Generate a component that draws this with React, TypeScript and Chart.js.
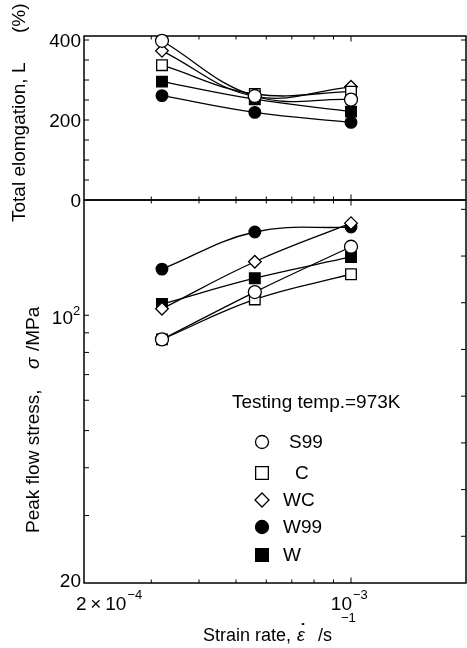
import React, { useEffect, useRef } from "react";
import { Chart, registerables } from "chart.js";

Chart.register(...registerables);

// ---------------- data ----------------
const strainRates = [3.2e-4, 5.6e-4, 1.0e-3];
const seriesNames = ["S99", "C", "WC", "W99", "W"];

// Total elongation, L (%)
const elongationS99 = [398, 260, 251];
const elongationC = [337, 265, 271];
const elongationWC = [373, 259, 283];
const elongationW99 = [261, 219, 194];
const elongationW = [296, 252, 221];

// Peak flow stress, sigma (MPa)
const stressS99 = [86.5, 115, 151];
const stressC = [86.5, 110, 128];
const stressWC = [104, 138, 174];
const stressW99 = [132, 165, 170];
const stressW = [107, 125, 142];

// axis ticks / labels
const xMajorTicks = [2e-4, 1e-3];
const xTickBase = ["2\u2009×\u200910", "10"];
const xTickExp = ["−4", "−3"];
const xMinorTicks = [3e-4, 4e-4, 5e-4, 6e-4, 7e-4, 8e-4, 9e-4];

const elongationTicks = [50, 100, 150, 200, 250, 300, 350, 400];
const elongationLabels = ["0", "200", "400"];
const elongationLabelValues = [0, 200, 400];

const stressTicks = [30, 40, 50, 60, 70, 80, 90, 100];
const stressLabelValues = [20, 100];
const stressLabelBase = ["20", "10"];
const stressLabelExp = ["", "2"];

const annotationText = "Testing temp.=973K";

// ---------------- styles ----------------
const FONT = '"Liberation Sans", Arial, Helvetica, sans-serif';
const markerShapes = ["circle", "rect", "rectRot", "circle", "rect"];
const markerFilled = [false, false, false, true, true];
const markerRadius = [6.5, 7.5, 6.3, 5.8, 7.5];
const legendRadius = [6.5, 9, 7, 6.5, 9];

function drawMarker(ctx: CanvasRenderingContext2D, shape: string, x: number, y: number, r: number, filled: boolean) {
  ctx.beginPath();
  if (shape === "circle") {
    ctx.arc(x, y, r, 0, Math.PI * 2);
  } else if (shape === "rect") {
    const s = r * Math.SQRT1_2;
    ctx.rect(x - s, y - s, 2 * s, 2 * s);
  } else {
    ctx.moveTo(x - r, y);
    ctx.lineTo(x, y - r);
    ctx.lineTo(x + r, y);
    ctx.lineTo(x, y + r);
    ctx.closePath();
  }
  ctx.fillStyle = filled ? "#000" : "#fff";
  ctx.fill();
  ctx.lineWidth = 1.3;
  ctx.strokeStyle = "#000";
  ctx.stroke();
}

function line(ctx: CanvasRenderingContext2D, x1: number, y1: number, x2: number, y2: number) {
  ctx.beginPath();
  ctx.moveTo(x1, y1);
  ctx.lineTo(x2, y2);
  ctx.stroke();
}

const framePlugin = {
  id: "frameAndLabels",
  beforeDatasetsDraw(chart: any) {
    const ctx: CanvasRenderingContext2D = chart.ctx;
    const xs = chart.scales.x;
    const yT = chart.scales.yT;
    const yB = chart.scales.yB;
    const L = chart.chartArea.left;
    const R = chart.chartArea.right;
    ctx.save();
    ctx.strokeStyle = "#000";
    ctx.lineWidth = 1.5;
    ctx.strokeRect(L, yT.top, R - L, yT.bottom - yT.top);
    ctx.strokeRect(L, yB.top, R - L, yB.bottom - yB.top);

    ctx.lineWidth = 1;
    // x ticks, inward on every horizontal border
    const panels = [yT, yB];
    for (const p of panels) {
      for (const v of xMinorTicks) {
        const px = xs.getPixelForValue(v);
        line(ctx, px, p.bottom, px, p.bottom - 3.5);
        line(ctx, px, p.top, px, p.top + 3.5);
      }
      const pm = xs.getPixelForValue(1e-3);
      line(ctx, pm, p.bottom, pm, p.bottom - 5.5);
      line(ctx, pm, p.top, pm, p.top + 5.5);
    }
    // top panel y ticks (left and right)
    for (const v of elongationTicks) {
      const py = yT.getPixelForValue(v);
      line(ctx, L, py, L + 5, py);
      line(ctx, R, py, R - 5, py);
    }
    // bottom panel y ticks
    for (const v of stressTicks) {
      const py = yB.getPixelForValue(v);
      line(ctx, L, py, L + 5, py);
    }
    const h = yB.bottom - yB.top;
    for (let k = 1; k <= 8; k++) {
      const py = yB.bottom - (k * h) / 8.2;
      line(ctx, R, py, R - 5, py);
    }

    // tick labels
    ctx.fillStyle = "#000";
    ctx.font = `19px ${FONT}`;
    ctx.textAlign = "right";
    ctx.textBaseline = "alphabetic";
    elongationLabelValues.forEach((v, i) => {
      const py = yT.getPixelForValue(v);
      ctx.fillText(elongationLabels[i], L - 3, py + 7);
    });
    stressLabelValues.forEach((v, i) => {
      const py = yB.getPixelForValue(v);
      if (stressLabelExp[i]) {
        ctx.font = `19px ${FONT}`;
        ctx.textAlign = "right";
        ctx.fillText(stressLabelBase[i], L - 11, py + 9);
        ctx.font = `13px ${FONT}`;
        ctx.textAlign = "left";
        ctx.fillText(stressLabelExp[i], L - 11, py + 0);
      } else {
        ctx.font = `19px ${FONT}`;
        ctx.textAlign = "right";
        ctx.fillText(stressLabelBase[i], L - 3, py + 4);
      }
    });
    xMajorTicks.forEach((v, i) => {
      const px = xs.getPixelForValue(v);
      ctx.font = `19px ${FONT}`;
      let end: number;
      if (i === 0) {
        ctx.textAlign = "left";
        ctx.fillText(xTickBase[i], px - 8, 610);
        end = px - 8 + ctx.measureText(xTickBase[i]).width;
      } else {
        ctx.textAlign = "right";
        ctx.fillText(xTickBase[i], px + 1, 610);
        end = px + 1;
      }
      ctx.font = `13px ${FONT}`;
      ctx.textAlign = "left";
      ctx.fillText(xTickExp[i], end + 1, 599);
    });

    // x axis title
    ctx.textAlign = "left";
    ctx.font = `18px ${FONT}`;
    ctx.fillText("Strain rate,", 203, 641);
    ctx.font = `italic 18px ${FONT}`;
    const ex = 297;
    ctx.fillText("ε", ex, 641);
    const ew = ctx.measureText("ε").width;
    ctx.font = `bold 18px ${FONT}`;
    ctx.textAlign = "center";
    ctx.fillText("˙", ex + ew / 2 + 2, 637);
    ctx.font = `18px ${FONT}`;
    ctx.textAlign = "left";
    ctx.fillText("/s", 318, 641);
    ctx.font = `13px ${FONT}`;
    ctx.fillText("−1", 341, 622);

    // y axis titles
    ctx.save();
    ctx.translate(20, 222);
    ctx.rotate(-Math.PI / 2);
    ctx.textAlign = "left";
    ctx.textBaseline = "middle";
    ctx.font = `19px ${FONT}`;
    ctx.fillText("Total elomgation, L", 0, 0);
    ctx.fillText("(%)", 189, 0);
    ctx.restore();

    ctx.save();
    ctx.translate(33.5, 533);
    ctx.rotate(-Math.PI / 2);
    ctx.textAlign = "left";
    ctx.textBaseline = "middle";
    ctx.font = `19px ${FONT}`;
    ctx.fillText("Peak flow stress,", 0, 0);
    ctx.font = `italic 19px ${FONT}`;
    ctx.fillText("σ", 164, 0);
    ctx.font = `19px ${FONT}`;
    ctx.fillText("/MPa", 182, 0);
    ctx.restore();

    ctx.restore();
  },
  afterDraw(chart: any) {
    const ctx: CanvasRenderingContext2D = chart.ctx;
    ctx.save();
    ctx.fillStyle = "#000";
    ctx.font = `19px ${FONT}`;
    ctx.textAlign = "left";
    ctx.textBaseline = "alphabetic";
    ctx.fillText(annotationText, 232, 408);

    const markerX = 262;
    const rowsY = [442, 473, 500, 527, 555];
    const labelX = [289, 295, 283, 283, 283];
    seriesNames.forEach((name, i) => {
      drawMarker(ctx, markerShapes[i], markerX, rowsY[i], legendRadius[i], markerFilled[i]);
      ctx.fillStyle = "#000";
      ctx.font = `19px ${FONT}`;
      ctx.textBaseline = "middle";
      ctx.fillText(name, labelX[i], rowsY[i] + 1);
    });
    ctx.restore();
  },
};

const topSeries = [elongationS99, elongationC, elongationWC, elongationW99, elongationW];
const bottomSeries = [stressS99, stressC, stressWC, stressW99, stressW];

function buildDatasets() {
  const ds: any[] = [];
  seriesNames.forEach((name, i) => {
    const common = {
      label: name,
      borderColor: "#000",
      borderWidth: 1.3,
      pointStyle: markerShapes[i],
      pointRadius: markerRadius[i],
      pointBackgroundColor: markerFilled[i] ? "#000" : "#fff",
      pointBorderColor: "#000",
      pointBorderWidth: 1.3,
      tension: 0.4,
      fill: false,
      clip: false,
    };
    ds.push({ ...common, yAxisID: "yT", data: strainRates.map((x, j) => ({ x, y: topSeries[i][j] })) });
    ds.push({ ...common, yAxisID: "yB", data: strainRates.map((x, j) => ({ x, y: bottomSeries[i][j] })) });
  });
  return ds;
}

const hiddenAxisBits = {
  ticks: { display: false },
  grid: { display: false, drawTicks: false },
  border: { display: false },
};

export default function App() {
  const ref = useRef<HTMLCanvasElement>(null);
  useEffect(() => {
    document.body.style.margin = "0";
    const chart = new Chart(ref.current as HTMLCanvasElement, {
      type: "line",
      data: { datasets: buildDatasets() },
      options: {
        responsive: false,
        animation: false,
        events: [],
        layout: { padding: { top: 36, left: 84, right: 1, bottom: 65 }, autoPadding: false },
        plugins: { legend: { display: false }, tooltip: { enabled: false }, title: { display: false } },
        scales: {
          x: {
            type: "logarithmic",
            min: 2e-4,
            max: 2e-3,
            ...hiddenAxisBits,
            afterFit: (s: any) => {
              s.height = 0;
            },
          },
          yB: {
            type: "logarithmic",
            position: "left",
            stack: "panels",
            stackWeight: 383,
            min: 20,
            max: 200,
            ...hiddenAxisBits,
            afterFit: (s: any) => {
              s.width = 0;
            },
          },
          yT: {
            type: "linear",
            position: "left",
            stack: "panels",
            stackWeight: 164,
            min: 0,
            max: 410,
            ...hiddenAxisBits,
            afterFit: (s: any) => {
              s.width = 0;
            },
          },
        } as any,
      },
      plugins: [framePlugin],
    } as any);
    return () => chart.destroy();
  }, []);
  return (
    <div style={{ width: 467, height: 648, background: "#fff" }}>
      <canvas ref={ref} width={467} height={648} style={{ display: "block" }} />
    </div>
  );
}
